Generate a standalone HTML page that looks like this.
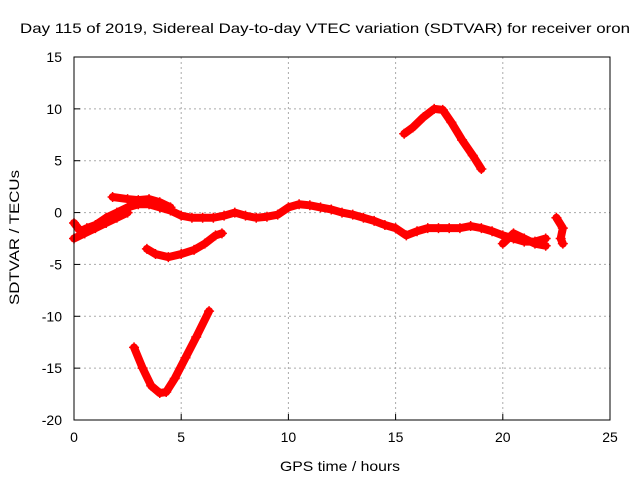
<!DOCTYPE html>
<html><head><meta charset="utf-8"><style>
body{margin:0;background:#fff;}
svg text{font-family:"Liberation Sans",sans-serif;font-size:14px;fill:#000;}
</style></head><body>
<svg id="chart" width="640" height="480">
<text x="20" y="33" textLength="610" lengthAdjust="spacingAndGlyphs">Day 115 of 2019, Sidereal Day-to-day VTEC variation (SDTVAR) for receiver oron</text>
<text x="280" y="471" textLength="120" lengthAdjust="spacingAndGlyphs">GPS time / hours</text>
<text transform="translate(19,305) rotate(-90)" textLength="135" lengthAdjust="spacingAndGlyphs">SDTVAR / TECUs</text>
<g id="grid"></g><g id="marks"></g>
<rect x="74" y="57" width="536" height="363" fill="none" stroke="#000" stroke-width="1"/>
</svg>
<script>
const xTicks=[0,5,10,15,20,25];
const yTicks=[15,10,5,0,-5,-10,-15,-20];
const trackV=[[2.8,-13],[3.2,-15],[3.6,-16.7],[4.0,-17.4],[4.3,-17.3],[4.7,-16],[5.2,-14],[5.7,-12],[6.3,-9.5]];
const trackHump=[[15.4,7.6],[15.8,8.2],[16.3,9.2],[16.8,10],[17.2,9.9],[17.6,8.7],[18.1,7],[18.6,5.5],[19.0,4.2]];
const trackDip=[[3.4,-3.5],[3.8,-4],[4.4,-4.3],[5.0,-4],[5.6,-3.6],[6.1,-3],[6.6,-2.2],[6.9,-2]];
const trackMain=[[0,-1],[0.3,-1.8],[0.6,-1.5],[1,-1.2],[1.5,-0.5],[2,0],[2.5,0.5],[3,0.8],[3.5,0.8],[4,0.5],[4.5,0.2],[5,-0.3],[5.5,-0.5],[6,-0.5],[6.5,-0.5],[7,-0.3],[7.5,0],[8,-0.3],[8.5,-0.5],[9,-0.4],[9.5,-0.2],[10,0.5],[10.5,0.8],[11,0.7],[11.5,0.5],[12,0.3],[12.5,0],[13,-0.2],[13.5,-0.5],[14,-0.8],[14.5,-1.2],[15,-1.5],[15.5,-2.2],[16,-1.8],[16.5,-1.5],[17,-1.5],[17.5,-1.5],[18,-1.5],[18.5,-1.3],[19,-1.5],[19.5,-1.8],[20,-2.2],[20.5,-2.5],[21,-2.8],[21.5,-2.8],[22,-2.5]];
const trackUpper=[[1.8,1.5],[2.5,1.3],[3,1.2],[3.5,1.3],[4,1],[4.5,0.5]];
const trackLow=[[0,-2.5],[0.5,-2],[1,-1.5],[1.5,-1],[2,-0.5],[2.5,0]];
const trackLate=[[20,-3],[20.5,-2],[21,-2.5],[21.5,-3],[22,-3.2]];
const trackEnd=[[22.5,-0.5],[22.8,-1.5],[22.7,-2.5],[22.8,-3]];
const tracks=[trackV,trackHump,trackDip,trackMain,trackUpper,trackLow,trackLate,trackEnd];
const NS="http://www.w3.org/2000/svg";
const X=v=>74+v*536/25, Y=v=>57+(15-v)*363/35;
const grid=document.getElementById('grid'), marks=document.getElementById('marks');
function mk(t,a,p){const e=document.createElementNS(NS,t);for(const k in a)e.setAttribute(k,a[k]);p.appendChild(e);return e;}
xTicks.forEach(t=>{
 if(t>0&&t<25){const l=mk('line',{x1:X(t),x2:X(t),y1:57,y2:420,stroke:'#aaa','stroke-dasharray':'2,3'},grid);
 
 }
 mk('line',{x1:X(t),x2:X(t),y1:420,y2:414,stroke:'#000'},grid);
 const tx=mk('text',{x:X(t),y:442,'text-anchor':'middle'},grid);tx.textContent=t;
 
 
});
yTicks.forEach(t=>{
 if(t<15&&t>-20){const l=mk('line',{x1:74,x2:610,y1:Y(t),y2:Y(t),stroke:'#aaa','stroke-dasharray':'2,3'},grid);
 
 }
 mk('line',{x1:74,x2:80,y1:Y(t),y2:Y(t),stroke:'#000'},grid);
 const tx=mk('text',{x:62,y:Y(t)+5,'text-anchor':'end'},grid);tx.textContent=t;
 
 
});
tracks.forEach(tr=>{
 const p=mk('polyline',{points:tr.map(d=>X(d[0])+','+Y(d[1])).join(' '),fill:'none',stroke:'#f00','stroke-width':8,'stroke-linejoin':'round','stroke-linecap':'round'},marks);
 
 
 tr.forEach(d=>{
  const g=mk('path',{d:`M${X(d[0])-5},${Y(d[1])}h10M${X(d[0])},${Y(d[1])-5}v10`,stroke:'#f00','stroke-width':1.5},marks);
  
  
 });
});
</script>
</body></html>
